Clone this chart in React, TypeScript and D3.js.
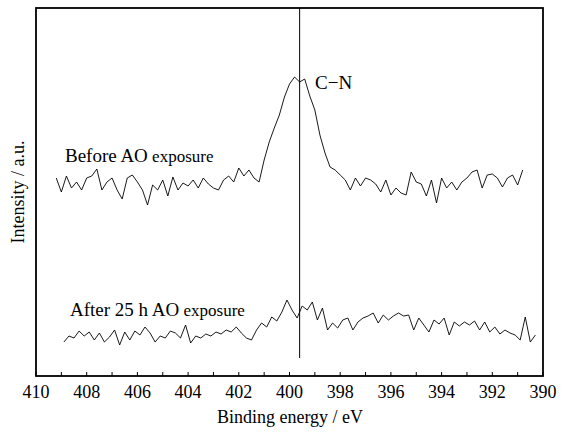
import React, { useEffect, useRef } from "react";
import * as d3 from "d3";

// binding energy grid (eV) of each scan: first point and step
const beforeStart = 409.2;
const afterStart = 408.9;
const stepEv = 0.2;

// intensities (counts, arbitrary)
const beforeValues = [
  1980, 1840, 2000, 1880, 1940, 1860, 1980, 2000, 2070, 1860, 1940, 1980, 1860, 1770, 1980, 2010,
  1940, 1860, 1710, 1910, 1860, 1960, 1800, 1990, 1860, 1930, 1900, 1960, 1880, 1980, 1920, 1880,
  1860, 1960, 2000, 1940, 2080, 2000, 2060, 1980, 1940, 2160, 2340, 2480, 2610, 2790, 2920, 2990,
  2940, 2970, 2800, 2660, 2410, 2230, 2090, 2060, 2010, 1960, 1860, 1980, 1900, 1980, 1960, 1920,
  1840, 1960, 1810, 1880, 1830, 1810, 2040, 1940, 1920, 1800, 1960, 1730, 1980, 1880, 1940, 1860,
  1940, 1980, 2040, 2060, 1880, 2010, 2020, 1980, 1890, 1980, 2010, 1910, 2060,
];

const afterValues = [
  340, 400, 380, 450, 400, 440, 360, 430, 340, 390, 460, 310, 440, 360, 450, 410, 490, 430, 340,
  400, 380, 450, 430, 380, 510, 330, 400, 380, 420, 400, 440, 420, 460, 440, 490, 430, 380, 360,
  460, 530, 490, 590, 550, 640, 760, 660, 580, 700, 660, 740, 560, 680, 460, 530, 480, 560, 580,
  460, 540, 580, 600, 630, 530, 610, 560, 600, 630, 600, 610, 460, 580, 510, 440, 560, 520, 580,
  410, 540, 500, 540, 510, 550, 460, 540, 440, 490, 420, 460, 430, 410, 360, 590, 340, 410,
];

const xTicks = [410, 408, 406, 404, 402, 400, 398, 396, 394, 392, 390];
const peakEnergy = 399.6;

const W = 573;
const H = 432;
const font = "Liberation Serif, DejaVu Serif, Times, serif";

const App = () => {
  const ref = useRef<SVGSVGElement>(null);

  useEffect(() => {
    const svg = d3.select(ref.current);
    svg.selectAll("*").remove();

    const left = 36, right = 543, top = 8, bottom = 376;

    const x = d3.scaleLinear().domain([410, 390]).range([left, right]);
    const y = d3.scaleLinear().domain([0, 3680]).range([bottom, top]);

    const toPts = (start: number, vals: number[]) =>
      vals.map((v, i) => ({ e: start - i * stepEv, v }));

    const line = d3
      .line<{ e: number; v: number }>()
      .x((d) => x(d.e))
      .y((d) => y(d.v));

    [toPts(beforeStart, beforeValues), toPts(afterStart, afterValues)].forEach((pts) => {
      svg
        .append("path")
        .datum(pts)
        .attr("fill", "none")
        .attr("stroke", "#000")
        .attr("stroke-width", 0.9)
        .attr("d", line);
    });

    // marker at the C-N peak
    svg
      .append("line")
      .attr("x1", x(peakEnergy))
      .attr("x2", x(peakEnergy))
      .attr("y1", top)
      .attr("y2", 358)
      .attr("stroke", "#000")
      .attr("stroke-width", 1);

    // ticks every 1 eV, pointing inward
    svg
      .append("g")
      .selectAll("line")
      .data(d3.range(410, 389, -1))
      .join("line")
      .attr("x1", (d) => x(d))
      .attr("x2", (d) => x(d))
      .attr("y1", bottom)
      .attr("y2", bottom - 4)
      .attr("stroke", "#000")
      .attr("stroke-width", 1);

    svg
      .append("rect")
      .attr("x", left)
      .attr("y", top)
      .attr("width", right - left)
      .attr("height", bottom - top)
      .attr("fill", "none")
      .attr("stroke", "#000")
      .attr("stroke-width", 1.8);

    svg
      .append("g")
      .selectAll("text")
      .data(xTicks)
      .join("text")
      .attr("x", (d) => x(d))
      .attr("y", 398)
      .attr("text-anchor", "middle")
      .attr("font-family", font)
      .attr("font-size", 18)
      .text((d) => d);

    svg
      .append("text")
      .attr("x", 290)
      .attr("y", 423)
      .attr("text-anchor", "middle")
      .attr("font-family", font)
      .attr("font-size", 18)
      .text("Binding energy / eV");

    svg
      .append("text")
      .attr("transform", "translate(24,192) rotate(-90)")
      .attr("text-anchor", "middle")
      .attr("font-family", font)
      .attr("font-size", 18)
      .text("Intensity / a.u.");

    svg
      .append("text")
      .attr("x", 315)
      .attr("y", 89)
      .attr("font-family", font)
      .attr("font-size", 19)
      .text("C\u2212N");

    const label = (xx: number, yy: number, a: string, b: string) => {
      const t = svg
        .append("text")
        .attr("x", xx)
        .attr("y", yy)
        .attr("font-family", font)
        .attr("font-size", 19);
      t.append("tspan").text(a);
      t.append("tspan").attr("font-size", 17).text(" " + b);
    };
    label(65, 162, "Before AO", "exposure");
    label(70, 316, "After 25 h AO", "exposure");
  }, []);

  return (
    <div style={{ position: "absolute", left: 0, top: 0 }}>
      <svg ref={ref} width={W} height={H} style={{ display: "block", background: "#fff" }} />
    </div>
  );
};

export default App;
